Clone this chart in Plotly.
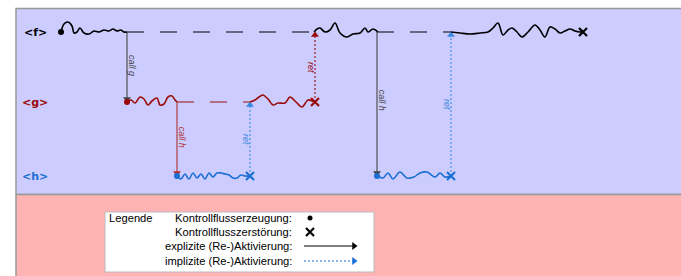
import plotly.graph_objects as go

# ---------------- data ----------------
lane_names = ["<f>", "<g>", "<h>"]
lane_y = {"f": 32, "g": 102, "h": 176}
lane_colors = {"f": "#000000", "g": "#9b0a0a", "h": "#1a6fd4"}

# active (squiggle) phases: lane, points (x, y-offset from lane line)
f1_x = [61, 64, 68, 72, 74, 77, 80, 84, 89, 94, 99, 104, 109, 113, 117, 121, 124, 127]
f1_d = [0, -8, -10, -6, 1, 0, -4, 1, 2, -1, 0, -2, -1, -3, -1, -2, 0, 0]
g1_x = [127, 131, 135, 140, 144, 148, 152, 157, 160, 164, 168, 172, 175, 177]
g1_d = [0, -2, 1, -5, -3, 3, -1, -4, 3, 2, -5, -6, -2, 0]
h1_x = [177, 181, 185, 189, 193, 197, 201, 205, 209, 213, 217, 221, 225, 229, 233, 237, 241, 245, 250]
h1_d = [0, 3, -2, 3, -3, 2, -2, 3, -3, 1, -3, -3, -2, -1, 2, 2, -1, 0, 0]
g2_x = [250, 255, 259, 263, 268, 273, 278, 285, 290, 296, 302, 308, 312, 315]
g2_d = [0, -2, -5, -7, -3, 3, 1, 1, -5, 0, 5, -2, -1, 0]
f2_x = [314, 317, 320, 325, 330, 335, 340, 347, 353, 360, 365, 368, 373, 378]
f2_d = [0, -3, -4, 0, -2, -9, 1, 5, 2, 1, -4, 0, -3, 0]
h2_x = [378, 383, 388, 393, 400, 407, 414, 420, 427, 435, 440, 445, 451]
h2_d = [0, 2, -3, 3, -4, 2, 1, -3, -4, 1, -3, 1, 0]
f3_x = [451, 460, 470, 480, 488, 493, 498, 503, 508, 512, 517, 522, 528, 535, 540, 545, 550, 555, 560, 565, 570, 575, 580, 583]
f3_d = [0, 1, 2, 1, 0, -4, -9, 3, -2, -4, 0, 5, 0, -7, -2, 5, -5, -3, 1, -1, -3, -1, 0, 0]

phases = [("f", f1_x, f1_d), ("g", g1_x, g1_d), ("h", h1_x, h1_d),
          ("g", g2_x, g2_d), ("f", f2_x, f2_d), ("h", h2_x, h2_d), ("f", f3_x, f3_d)]

# suspended (dashed) phases: lane, start, end
waits = [("f", 127, 314), ("g", 177, 250), ("f", 377, 451)]

# control transfers: x, from lane, to lane, kind, label
transfers = [(127, "f", "g", "call", "call g"),
             (177, "g", "h", "call", "call h"),
             (250, "h", "g", "ret", "ret"),
             (315, "g", "f", "ret", "ret"),
             (377, "f", "h", "call", "call h"),
             (451, "h", "f", "ret", "ret")]

# creation / destruction points
creations = [(61, "f"), (127, "g"), (177, "h"), (377, "h")]
destructions = [(583, "f"), (315, "g"), (250, "h"), (451, "h")]

legend_labels = ["Kontrollflusserzeugung:", "Kontrollflusszerstörung:",
                 "explizite (Re-)Aktivierung:", "implizite (Re-)Aktivierung:"]

# ---------------- figure ----------------
fig = go.Figure()
W, H = 681, 276
shapes = [
    dict(type="rect", x0=16, x1=W + 2, y0=8.5, y1=194.5, fillcolor="#ccccff",
         line=dict(color="#999999", width=1.5), layer="below"),
    dict(type="rect", x0=16, x1=W + 2, y0=194.5, y1=H + 2, fillcolor="#ffb3b3",
         line=dict(color="#999999", width=1.5), layer="below"),
    dict(type="rect", x0=105, x1=374, y0=212, y1=272, fillcolor="white",
         line=dict(color="#bbbbbb", width=1), layer="below"),
]

ret_colors = {"g": "#9b0a0a", "h": "#3a8ae0"}

for lane, a, b in waits:
    y = lane_y[lane]
    fig.add_trace(go.Scatter(x=[a, b], y=[y, y], mode="lines",
                             line=dict(color=lane_colors[lane], width=1.2, dash="17px,16px"),
                             hoverinfo="skip", showlegend=False))

for x, src, dst, kind, label in transfers:
    y0, y1 = lane_y[src], lane_y[dst]
    down = y1 > y0
    if kind == "call":
        col = "#444444" if src == "f" else "#b03030"
        dash = "solid"
    else:
        col = ret_colors[src]
        dash = "2px,2px"
    tip = y1 - 3 if down else y1 + 3
    fig.add_trace(go.Scatter(x=[x, x], y=[y0, tip], mode="lines",
                             line=dict(color=col, width=1.1, dash=dash),
                             hoverinfo="skip", showlegend=False))
    fig.add_trace(go.Scatter(x=[x], y=[tip], mode="markers",
                             marker=dict(symbol="triangle-down" if down else "triangle-up",
                                         size=7, color=col),
                             hoverinfo="skip", showlegend=False))
    lx = x + 5 if kind == "call" else x - 4
    fig.add_annotation(x=lx, y=(y0 + y1) / 2 if kind == "ret" else y0 + (y1 - y0) * 0.47,
                       text="<i>%s</i>" % label, showarrow=False, textangle=90,
                       font=dict(size=9, color=col, family="Liberation Sans"))

for lane, xs, ds in phases:
    y = lane_y[lane]
    fig.add_trace(go.Scatter(x=xs, y=[y + d for d in ds], mode="lines",
                             line=dict(color=lane_colors[lane], width=1.6, shape="spline", smoothing=1.0),
                             hoverinfo="skip", showlegend=False))

for x, lane in creations:
    fig.add_trace(go.Scatter(x=[x], y=[lane_y[lane]], mode="markers",
                             marker=dict(symbol="circle", size=6, color=lane_colors[lane]),
                             hoverinfo="skip", showlegend=False))
for x, lane in destructions:
    fig.add_trace(go.Scatter(x=[x], y=[lane_y[lane]], mode="markers",
                             marker=dict(symbol="x-thin", size=8, color=lane_colors[lane],
                                         line=dict(color=lane_colors[lane], width=2.2)),
                             hoverinfo="skip", showlegend=False))

for name, key in zip(lane_names, ["f", "g", "h"]):
    fig.add_annotation(x=35, y=lane_y[key], text="<b>%s</b>" % name.replace("<", "&lt;").replace(">", "&gt;"),
                       showarrow=False, font=dict(size=11, color=lane_colors[key], family="DejaVu Sans"))

# legend
leg_y = [218, 232, 246, 261]
fig.add_annotation(x=107, y=leg_y[0], text="Legende", showarrow=False, xanchor="left",
                   font=dict(size=11.2, color="black", family="Liberation Sans"))
for t, y in zip(legend_labels, leg_y):
    fig.add_annotation(x=294, y=y, text=t, showarrow=False, xanchor="right",
                       font=dict(size=11.2, color="black", family="Liberation Sans"))
fig.add_trace(go.Scatter(x=[310], y=[leg_y[0]], mode="markers",
                         marker=dict(symbol="circle", size=5, color="black"),
                         hoverinfo="skip", showlegend=False))
fig.add_trace(go.Scatter(x=[310], y=[leg_y[1]], mode="markers",
                         marker=dict(symbol="x-thin", size=8, color="black",
                                     line=dict(color="black", width=2.2)),
                         hoverinfo="skip", showlegend=False))
for y, col, dash in [(leg_y[2], "black", "solid"), (leg_y[3], "#1a6fd4", "2px,2px")]:
    fig.add_trace(go.Scatter(x=[304, 353], y=[y, y], mode="lines",
                             line=dict(color=col, width=1.1, dash=dash),
                             hoverinfo="skip", showlegend=False))
    fig.add_trace(go.Scatter(x=[354], y=[y], mode="markers",
                             marker=dict(symbol="triangle-right", size=7, color=col),
                             hoverinfo="skip", showlegend=False))

fig.update_layout(width=W, height=H, margin=dict(l=0, r=0, t=0, b=0),
                  paper_bgcolor="white", plot_bgcolor="white", shapes=shapes,
                  xaxis=dict(range=[0, W], visible=False, fixedrange=True),
                  yaxis=dict(range=[H, 0], visible=False, fixedrange=True))
fig.write_html("out.html", config={"displayModeBar": False},
               post_script="document.body.style.margin='0';document.body.style.overflow='hidden';")
